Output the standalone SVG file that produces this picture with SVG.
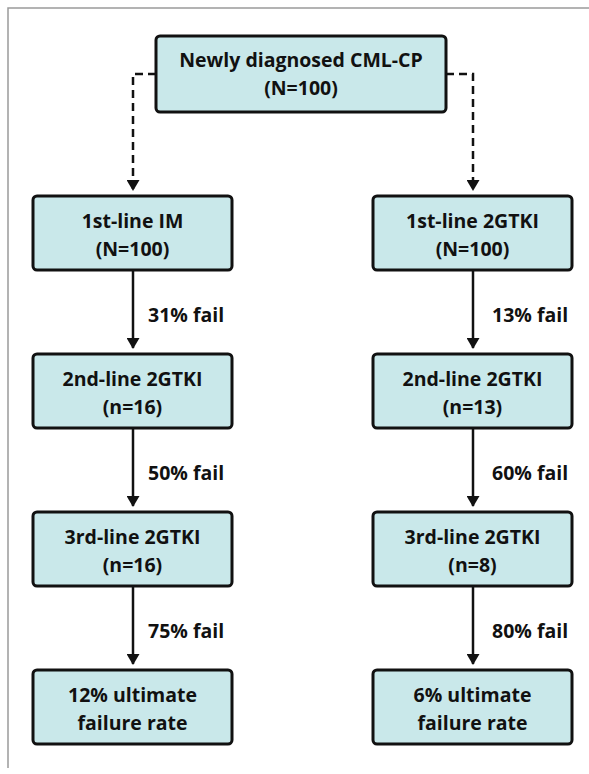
<svg xmlns="http://www.w3.org/2000/svg" width="589" height="774" viewBox="0 0 589 774">
  <style>
    .frame { stroke: #9a9a9a; stroke-width: 1.5; fill: none; }
    .box { fill: #c9e8ea; stroke: #111; stroke-width: 3; }
    .txt { font-family: "Open Sans", "Liberation Sans", sans-serif; font-weight: 700; font-size: 19.5px; fill: #111; text-anchor: middle; }
    .lbl { font-family: "Open Sans", "Liberation Sans", sans-serif; font-weight: 700; font-size: 19.5px; fill: #111; }
    .solid { stroke: #111; stroke-width: 2.5; fill: none; }
    .dash { stroke: #111; stroke-width: 2.5; fill: none; stroke-dasharray: 8 5; }
  </style>
  <defs>
    <marker id="arrow" markerWidth="11" markerHeight="13" refX="10" refY="6.5" orient="auto" markerUnits="userSpaceOnUse" viewBox="0 0 11 13">
      <path d="M0,0 L11,6.5 L0,13 Z" fill="#111"/>
    </marker>
  </defs>

  <rect width="589" height="774" fill="#fff"/>
  <!-- page frame (left and top edges) -->
  <path class="frame" d="M8,768 V8 H589"/>

  <!-- connectors -->
  <g id="connectors">
    <path class="dash" d="M156,74 H133 V190" marker-end="url(#arrow)"/>
    <path class="dash" d="M446,74 H473 V190" marker-end="url(#arrow)"/>
    <path class="solid" d="M133,270 V348" marker-end="url(#arrow)"/>
    <path class="solid" d="M133,428 V506" marker-end="url(#arrow)"/>
    <path class="solid" d="M133,586 V664" marker-end="url(#arrow)"/>
    <path class="solid" d="M473,270 V348" marker-end="url(#arrow)"/>
    <path class="solid" d="M473,428 V506" marker-end="url(#arrow)"/>
    <path class="solid" d="M473,586 V664" marker-end="url(#arrow)"/>
    <text class="lbl" x="148" y="322">31% fail</text>
    <text class="lbl" x="148" y="480">50% fail</text>
    <text class="lbl" x="148" y="638">75% fail</text>
    <text class="lbl" x="492" y="322">13% fail</text>
    <text class="lbl" x="492" y="480">60% fail</text>
    <text class="lbl" x="492" y="638">80% fail</text>
  </g>

  <g id="start">
    <rect class="box" x="156" y="36" width="290" height="76" rx="4"/>
    <text class="txt" x="301" y="67">Newly diagnosed CML-CP</text>
    <text class="txt" x="301" y="95">(N=100)</text>
  </g>

  <g id="im-1st">
    <rect class="box" x="33" y="196" width="199" height="74" rx="4"/>
    <text class="txt" x="132.5" y="228">1st-line IM</text>
    <text class="txt" x="132.5" y="256">(N=100)</text>
  </g>
  <g id="im-2nd">
    <rect class="box" x="33" y="354" width="199" height="74" rx="4"/>
    <text class="txt" x="132.5" y="386">2nd-line 2GTKI</text>
    <text class="txt" x="132.5" y="414">(n=16)</text>
  </g>
  <g id="im-3rd">
    <rect class="box" x="33" y="512" width="199" height="74" rx="4"/>
    <text class="txt" x="132.5" y="544">3rd-line 2GTKI</text>
    <text class="txt" x="132.5" y="572">(n=16)</text>
  </g>
  <g id="im-result">
    <rect class="box" x="33" y="670" width="199" height="74" rx="4"/>
    <text class="txt" x="132.5" y="702">12% ultimate</text>
    <text class="txt" x="132.5" y="730">failure rate</text>
  </g>

  <g id="tki-1st">
    <rect class="box" x="373" y="196" width="199" height="74" rx="4"/>
    <text class="txt" x="472.5" y="228">1st-line 2GTKI</text>
    <text class="txt" x="472.5" y="256">(N=100)</text>
  </g>
  <g id="tki-2nd">
    <rect class="box" x="373" y="354" width="199" height="74" rx="4"/>
    <text class="txt" x="472.5" y="386">2nd-line 2GTKI</text>
    <text class="txt" x="472.5" y="414">(n=13)</text>
  </g>
  <g id="tki-3rd">
    <rect class="box" x="373" y="512" width="199" height="74" rx="4"/>
    <text class="txt" x="472.5" y="544">3rd-line 2GTKI</text>
    <text class="txt" x="472.5" y="572">(n=8)</text>
  </g>
  <g id="tki-result">
    <rect class="box" x="373" y="670" width="199" height="74" rx="4"/>
    <text class="txt" x="472.5" y="702">6% ultimate</text>
    <text class="txt" x="472.5" y="730">failure rate</text>
  </g>
</svg>
